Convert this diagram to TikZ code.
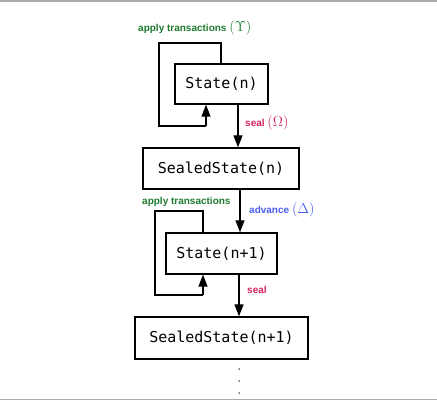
\documentclass[tikz,border=0pt]{standalone}
\usepackage{fontspec}
\setmainfont{Liberation Sans}
\setmonofont{DejaVu Sans Mono}
\usetikzlibrary{arrows.meta}
\definecolor{appgreen}{HTML}{1E7B2E}
\definecolor{sealpink}{HTML}{D6245E}
\definecolor{advblue}{HTML}{4A5CF0}
\definecolor{rulegray}{HTML}{AAAAAA}
\tikzset{
  statebox/.style={draw, line width=1.3pt, inner sep=0pt, font=\fontsize{15}{18}\selectfont\ttfamily},
  arr/.style={line width=1.3pt, -{Triangle[length=12pt,width=9pt]}},
  loopline/.style={line width=1.3pt},
  lbl/.style={anchor=west, inner sep=0pt, font=\fontsize{10}{12}\selectfont\bfseries},
}
\begin{document}
\begin{tikzpicture}[x=1pt,y=-1pt]
\useasboundingbox (0,0) rectangle (437,401);
\draw[rulegray, line width=1.5pt] (0,1) -- (437,1);
\draw[rulegray, line width=1.5pt] (0,399.5) -- (437,399.5);

\node[statebox, minimum width=93pt, minimum height=40pt] (s0) at (221.5,84) {State(n)};
\node[statebox, minimum width=156pt, minimum height=41pt] (ss0) at (221,168.5) {SealedState(n)};
\node[statebox, minimum width=111pt, minimum height=41pt] (s1) at (221.5,253.5) {State(n+1)};
\node[statebox, minimum width=173pt, minimum height=42pt] (ss1) at (221.5,338) {SealedState(n+1)};

% loop 1
\coordinate (l0a) at (221,43);
\coordinate (l0b) at (159,43);
\coordinate (l0c) at (159,126);
\coordinate (l0d) at (206,126);
\draw[loopline] (s0.north -| l0a) -- (l0a) -- (l0b) -- (l0c) -- (l0d);
\draw[arr] (l0d) -- (s0.south -| l0d);

% loop 2
\coordinate (l1a) at (203,211);
\coordinate (l1b) at (155,211);
\coordinate (l1c) at (155,295);
\coordinate (l1d) at (203,295);
\draw[loopline] (s1.north -| l1a) -- (l1a) -- (l1b) -- (l1c) -- (l1d);
\draw[arr] (l1d) -- (s1.south -| l1d);

% main arrows
\coordinate (xa) at (238,0);
\coordinate (xb) at (240,0);
\coordinate (xc) at (239,0);
\draw[arr] (s0.south -| xa) -- (ss0.north -| xa);
\draw[arr] (ss0.south -| xb) -- (s1.north -| xb);
\draw[arr] (s1.south -| xc) -- (ss1.north -| xc);

% labels
\node[lbl, text=appgreen] (t0) at (138,28) {apply transactions \fontsize{14}{15}\selectfont$(\Upsilon)$};
\node[lbl, text=sealpink] (t1) at (245,123) {seal \fontsize{14}{15}\selectfont$(\Omega)$};
\node[lbl, text=advblue] (t2) at (249,210) {advance \fontsize{14}{15}\selectfont$(\Delta)$};
\node[lbl, text=appgreen] (t3) at (142,202) {apply transactions};
\node[lbl, text=sealpink] (t4) at (247,290) {seal};

% dots
\foreach \yy in {369,381,393}
  \fill (239,\yy) circle (0.75pt);
\end{tikzpicture}
\end{document}
